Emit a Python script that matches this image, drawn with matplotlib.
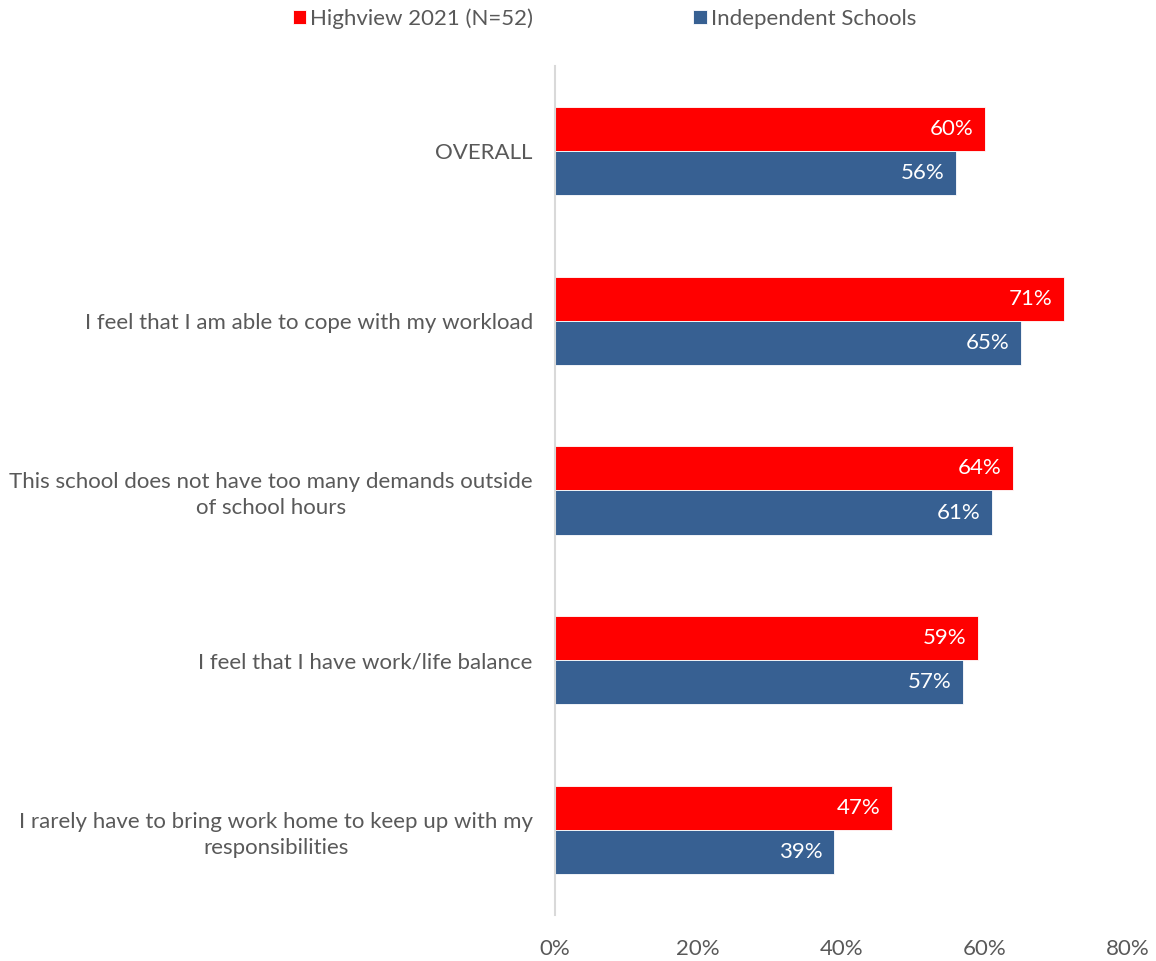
import matplotlib
matplotlib.use('Agg')
import matplotlib.pyplot as plt
import numpy as np

plt.rcParams['font.family'] = ['Lato', 'DejaVu Sans']

# Chart data
categories = ['OVERALL',
              'I feel that I am able to cope with my workload',
              'This school does not have too many demands outside\nof school hours',
              'I feel that I have work/life balance',
              'I rarely have to bring work home to keep up with my\nresponsibilities']
highview = [60, 71, 64, 59, 47]
independent = [56, 65, 61, 57, 39]
series_names = ['Highview 2021 (N=52)', 'Independent Schools']
xticks = [0, 20, 40, 60, 80]

red = '#FF0000'
blue = '#376092'
grey = '#595959'
fs = 16

fig = plt.figure(figsize=(11.56, 9.61), dpi=100)
ax = fig.add_axes([0.4801, 0.0479, 0.4957, 0.8834])

y = np.arange(len(categories))
h = 0.26
b1 = ax.barh(y - h / 2, highview, height=h, color=red, edgecolor='white', linewidth=0.6, label=series_names[0])
b2 = ax.barh(y + h / 2, independent, height=h, color=blue, edgecolor='white', linewidth=0.6, label=series_names[1])

for bars, vals in [(b1, highview), (b2, independent)]:
    for bar, v in zip(bars, vals):
        ax.text(bar.get_width() - 1.6, bar.get_y() + bar.get_height() / 2, f'{v}%',
                ha='right', va='center', color='white', fontsize=fs)

ax.set_xlim(0, 80)
ax.set_ylim(len(categories) - 0.5, -0.5)
ax.set_xticks(xticks)
ax.set_xticklabels([f'{t}%' for t in xticks])
ax.set_yticks(y)
ax.set_yticklabels(categories, multialignment='center', linespacing=1.35)
ax.tick_params(axis='both', length=0, labelsize=fs, labelcolor=grey)
ax.tick_params(axis='x', pad=17)
ax.tick_params(axis='y', pad=16)

for s in ['top', 'right', 'bottom']:
    ax.spines[s].set_visible(False)
ax.spines['left'].set_color('#D9D9D9')
ax.spines['left'].set_linewidth(1.5)

fig.legend(handles=[b1, b2], loc='upper center', bbox_to_anchor=(0.523, 1.012), ncol=2,
           frameon=False, fontsize=fs, labelcolor=grey, handlelength=0.6, handleheight=0.6,
           handletextpad=0.2, columnspacing=7.2)

fig.savefig('out.png', dpi=100)
